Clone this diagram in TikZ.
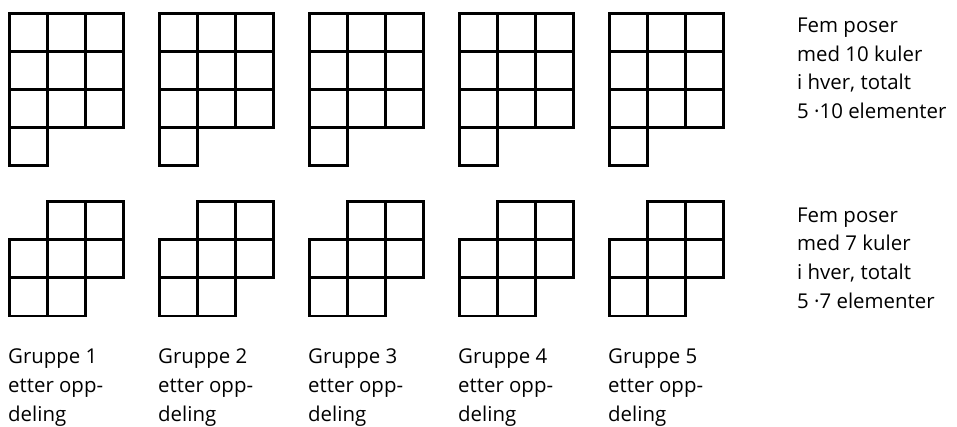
\documentclass[tikz,border=0pt]{standalone}
\usepackage{fontspec}
\setmainfont{Open Sans}
\usetikzlibrary{positioning}

\begin{document}
\begin{tikzpicture}[x=1bp, y=-1bp,
    cell/.style={draw, line width=2.7pt, minimum size=38bp, inner sep=0pt, anchor=north west},
    txt/.style={font=\fontsize{20.5}{28.7}\selectfont, align=left, anchor=base west, inner sep=0pt}
  ]
  \useasboundingbox (0,0) rectangle (957,426);
  % top row: five bags with 10
  \foreach \g in {0,...,4} {
    \foreach \r in {0,1,2} {
      \foreach \c in {0,1,2} {
        \node[cell] (t\g-\r\c) at (8+150*\g+38*\c, 12+38*\r) {};
      }
    }
    \node[cell] (t\g-30) at (8+150*\g, 126) {};
  }
  % bottom row: five bags with 7
  \foreach \g in {0,...,4} {
    \foreach \r/\c in {0/1, 0/2, 1/0, 1/1, 1/2, 2/0, 2/1} {
      \node[cell] (b\g-\r\c) at (8+150*\g+38*\c, 200+38.3*\r) {};
    }
  }
  % labels (base = last line)
  \node[txt] (top-label) at (797, 118.5) {Fem poser\\med 10 kuler\\i hver, totalt\\5 ·10 elementer};
  \node[txt] (bot-label) at (797, 308) {Fem poser\\med 7 kuler\\i hver, totalt\\5 ·7 elementer};
  \foreach \g in {1,...,5} {
    \node[txt] (grp\g) at (8+150*\g-150, 421) {Gruppe \g\\etter opp-\\deling};
  }
\end{tikzpicture}
\end{document}
